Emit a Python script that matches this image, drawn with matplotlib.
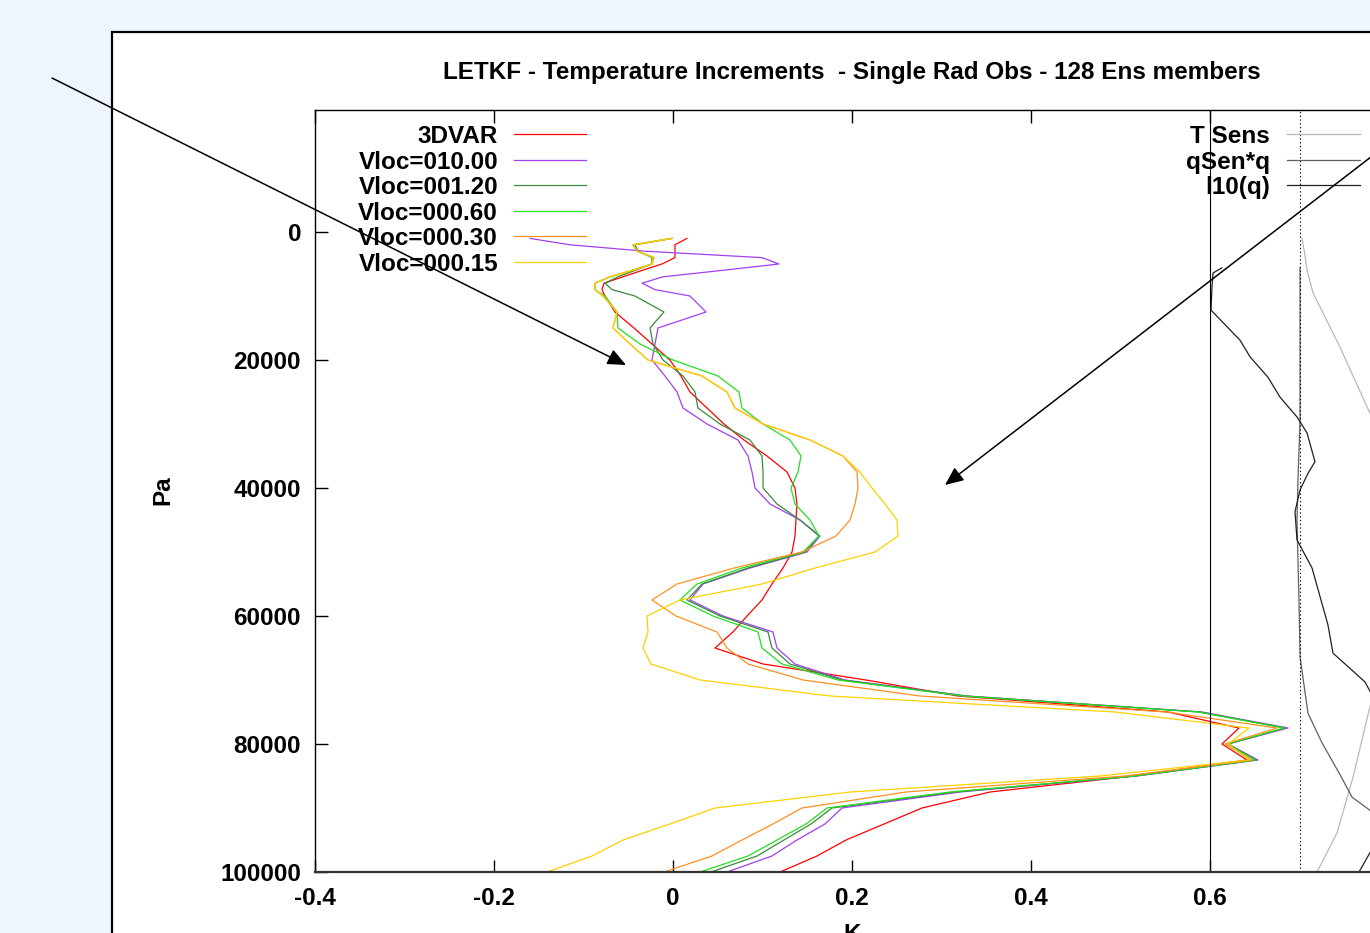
import matplotlib
matplotlib.use('Agg')
import matplotlib.pyplot as plt
from matplotlib.patches import Rectangle

plt.rcParams['font.family'] = ['Liberation Sans', 'DejaVu Sans']
plt.rcParams['axes.unicode_minus'] = False

# ---------------------------------------------------------
# DATA
# ---------------------------------------------------------
TITLE = "LETKF - Temperature Increments  - Single Rad Obs - 128 Ens members"

PRESSURE = [1000, 2000, 3000, 4000, 5000, 6000, 7000, 8000, 9000, 10000,
            12500, 15000, 17500, 20000, 22500, 25000, 27500, 30000, 32500, 35000,
            37500, 40000, 42500, 45000, 47500, 50000, 52500, 55000, 57500, 60000,
            62500, 65000, 67500, 70000, 72500, 75000, 77500, 80000, 82500, 85000,
            87500, 90000, 92500, 95000, 97500, 100000]

INC_3DVAR = [0.0156, 0.0022, 0.0022, 0.0022, -0.0123, -0.0346, -0.0559, -0.0771, -0.0793, -0.0760,
             -0.0648, -0.0436, -0.0235, -0.0034, 0.0089, 0.0190, 0.0380, 0.0570, 0.0793, 0.1050,
             0.1274, 0.1363, 0.1385, 0.1374, 0.1363, 0.1330, 0.1229, 0.1106, 0.0994, 0.0827,
             0.0670, 0.0469, 0.1006, 0.2156, 0.3184, 0.5531, 0.6324, 0.6134, 0.6413, 0.5140,
             0.3542, 0.2782, 0.2358, 0.1933, 0.1609, 0.1196]

INC_V1000 = [-0.1598, -0.1151, -0.0313, 0.0994, 0.1184, 0.0547, -0.0112, -0.0346, -0.0201, 0.0190,
             0.0369, -0.0168, -0.0201, -0.0235, -0.0089, 0.0045, 0.0112, 0.0380, 0.0726, 0.0838,
             0.0883, 0.0916, 0.1084, 0.1419, 0.1642, 0.1497, 0.0860, 0.0335, 0.0190, 0.0559,
             0.1117, 0.1162, 0.1363, 0.1922, 0.3285, 0.5911, 0.6872, 0.6201, 0.6536, 0.5184,
             0.3207, 0.1888, 0.1698, 0.1385, 0.1106, 0.0603]

INC_V120 = [-0.0011, -0.0425, -0.0391, -0.0235, -0.0235, -0.0425, -0.0615, -0.0760, -0.0682, -0.0425,
            -0.0101, -0.0257, -0.0223, -0.0112, 0.0112, 0.0246, 0.0279, 0.0525, 0.0860, 0.0994,
            0.1006, 0.1006, 0.1162, 0.1419, 0.1631, 0.1475, 0.0838, 0.0324, 0.0156, 0.0525,
            0.1061, 0.1106, 0.1307, 0.1888, 0.3263, 0.5888, 0.6838, 0.6201, 0.6514, 0.5162,
            0.3151, 0.1777, 0.1542, 0.1240, 0.0939, 0.0425]

INC_V060 = [-0.0011, -0.0447, -0.0402, -0.0212, -0.0235, -0.0458, -0.0704, -0.0872, -0.0872, -0.0760,
            -0.0626, -0.0615, -0.0369, 0.0000, 0.0503, 0.0737, 0.0771, 0.1006, 0.1307, 0.1430,
            0.1397, 0.1318, 0.1363, 0.1531, 0.1631, 0.1453, 0.0771, 0.0268, 0.0078, 0.0447,
            0.0950, 0.0994, 0.1218, 0.1844, 0.3240, 0.5866, 0.6827, 0.6190, 0.6503, 0.5162,
            0.3095, 0.1721, 0.1486, 0.1162, 0.0838, 0.0302]

INC_V030 = [-0.0011, -0.0447, -0.0402, -0.0212, -0.0235, -0.0458, -0.0704, -0.0872, -0.0872, -0.0782,
            -0.0626, -0.0670, -0.0480, -0.0279, 0.0324, 0.0603, 0.0693, 0.1006, 0.1531, 0.1899,
            0.2056, 0.2067, 0.2034, 0.1978, 0.1821, 0.1441, 0.0682, 0.0045, -0.0235, 0.0034,
            0.0492, 0.0603, 0.0838, 0.1453, 0.2760, 0.5520, 0.6749, 0.6168, 0.6469, 0.5050,
            0.2603, 0.1441, 0.1117, 0.0771, 0.0436, -0.0101]

INC_V015 = [-0.0011, -0.0447, -0.0402, -0.0212, -0.0235, -0.0458, -0.0704, -0.0872, -0.0872, -0.0782,
            -0.0626, -0.0670, -0.0480, -0.0279, 0.0324, 0.0603, 0.0693, 0.1006, 0.1531, 0.1899,
            0.2089, 0.2223, 0.2369, 0.2503, 0.2514, 0.2257, 0.1587, 0.0994, 0.0078, -0.0291,
            -0.0279, -0.0335, -0.0246, 0.0302, 0.1754, 0.4939, 0.6436, 0.6201, 0.6436, 0.4771,
            0.1978, 0.0469, -0.0034, -0.0559, -0.0905, -0.1408]

SERIES_LABELS = ["3DVAR", "Vloc=010.00", "Vloc=001.20", "Vloc=000.60", "Vloc=000.30", "Vloc=000.15"]
SERIES_COLORS = ["#ff0000", "#a040f0", "#3a8a3a", "#20e020", "#ff9020", "#ffd000"]

# sensitivity profiles on the right (same x scale, partly off the visible area)
TSENS_K = [0.7028, 0.7061, 0.7084, 0.7151, 0.7453, 0.7754, 0.7810, 0.8123, 0.7810, 0.7598, 0.7419, 0.7196]
TSENS_P = [1000, 3600, 6000, 9500, 18000, 27300, 29000, 50000, 72800, 85200, 93900, 100000]

QSENQ_K = [0.7006, 0.7006, 0.6983, 0.6972, 0.6994, 0.7006, 0.7095, 0.7251, 0.7453, 0.7587, 0.7810, 0.8067]
QSENQ_P = [5600, 29400, 38700, 45000, 57500, 66400, 75200, 79800, 84800, 88300, 90600, 93400]

L10Q_K = [0.6134, 0.6034, 0.6022, 0.6011, 0.6335, 0.6447, 0.6648, 0.6782, 0.6972, 0.7084, 0.7173,
          0.7095, 0.7006, 0.6950, 0.6972, 0.7140, 0.7318, 0.7374, 0.7732, 0.7899, 0.8123, 0.7665]
L10Q_P = [5600, 6400, 8600, 12200, 16900, 19500, 22700, 25800, 28900, 31400, 35900,
          37700, 40300, 43700, 48100, 52500, 61400, 65800, 70300, 74700, 88700, 100000]

SENS_LABELS = ["T Sens", "qSen*q", "l10(q)"]
SENS_COLORS = ["#b8b8b8", "#606060", "#202020"]

XTICKS = [-0.4, -0.2, 0.0, 0.2, 0.4, 0.6]
XTICK_LABELS = ["-0.4", "-0.2", "0", "0.2", "0.4", "0.6"]
YTICKS = [0, 20000, 40000, 60000, 80000, 100000]
YTICK_LABELS = ["0", "20000", "40000", "60000", "80000", "100000"]

W, H = 1370, 933
FS = 17.5


def main():
    fig = plt.figure(figsize=(W / 100, H / 100), dpi=100)
    fig.patch.set_facecolor('#eef5fd')

    # white plot canvas with black frame, running off the right/bottom
    fig.add_artist(Rectangle((112 / W, -0.05), 1.1, (H - 32) / H + 0.05,
                             transform=fig.transFigure, facecolor='white',
                             edgecolor='black', lw=1.6, zorder=0))

    ax = fig.add_axes([315 / W, 61 / H, 1055 / W, 762 / H])
    ax.set_facecolor('none')

    profiles = [INC_3DVAR, INC_V1000, INC_V120, INC_V060, INC_V030, INC_V015]
    for vals, col in zip(profiles, SERIES_COLORS):
        ax.plot(vals, PRESSURE, color=col, lw=0.9)

    ax.plot(TSENS_K, TSENS_P, color=SENS_COLORS[0], lw=0.9)
    ax.plot(QSENQ_K, QSENQ_P, color=SENS_COLORS[1], lw=0.9)
    ax.plot(L10Q_K, L10Q_P, color=SENS_COLORS[2], lw=0.9)

    ax.axvline(0.6, color='black', lw=0.8)
    ax.axvline(0.7006, color='black', lw=0.8, linestyle=(0, (1.2, 2.2)))

    ax.set_xlim(-0.4, -0.4 + 1055 / 895)
    ax.set_ylim(100000, -19062.5)

    ax.set_xticks(XTICKS, labels=XTICK_LABELS)
    ax.set_yticks(YTICKS, labels=YTICK_LABELS)
    ax.tick_params(direction='in', length=9, width=1, top=True, right=False,
                   labelsize=FS)
    ax.tick_params(axis='x', pad=11)
    ax.tick_params(axis='y', pad=10)
    for lab in ax.get_xticklabels() + ax.get_yticklabels():
        lab.set_fontweight('bold')

    ax.spines['right'].set_visible(False)
    for s in ['left', 'top']:
        ax.spines[s].set_linewidth(1.0)
    ax.spines['bottom'].set_linewidth(1.6)
    ax.spines['bottom'].set_color('#333333')

    # key, gnuplot style: label right-aligned, sample to the right
    def fy(py):
        return (872 - py) / 762

    def fx(px):
        return (px - 315) / 1055

    for i, (lab, col) in enumerate(zip(SERIES_LABELS, SERIES_COLORS)):
        y = fy(134 + i * 25.6)
        ax.text(fx(498), y, lab, transform=ax.transAxes, ha='right', va='center_baseline',
                fontsize=FS, fontweight='bold')
        ax.plot([fx(514), fx(586)], [y, y], transform=ax.transAxes, color=col, lw=0.9,
                clip_on=False)
    for i, (lab, col) in enumerate(zip(SENS_LABELS, SENS_COLORS)):
        y = fy(134 + i * 25.6)
        ax.text(fx(1270), y, lab, transform=ax.transAxes, ha='right', va='center_baseline',
                fontsize=FS, fontweight='bold')
        ax.plot([fx(1287), fx(1360)], [y, y], transform=ax.transAxes, color=col, lw=0.9,
                clip_on=False)

    fig.text(852 / W, 1 - 72 / H, TITLE, ha='center', va='center', fontsize=FS,
             fontweight='bold')
    fig.text(163 / W, 1 - 490 / H, "Pa", rotation=90, ha='center', va='center',
             fontsize=FS, fontweight='bold')
    fig.text(852 / W, 1 - 934 / H, "K", ha='center', va='center', fontsize=FS,
             fontweight='bold')

    # the two pointer arrows
    head = '-|>,head_length=0.8,head_width=0.35'
    for start, end in [((52, H - 78), (626, H - 365)), ((1380, H - 150), (945, H - 485))]:
        ax.annotate('', xy=end, xycoords='figure pixels', xytext=start,
                    textcoords='figure pixels', annotation_clip=False,
                    arrowprops=dict(arrowstyle=head, color='black', lw=1.1,
                                    shrinkA=0, shrinkB=0, mutation_scale=14),
                    zorder=10)

    fig.savefig('out.png', dpi=100, facecolor=fig.get_facecolor())


if __name__ == "__main__":
    main()
